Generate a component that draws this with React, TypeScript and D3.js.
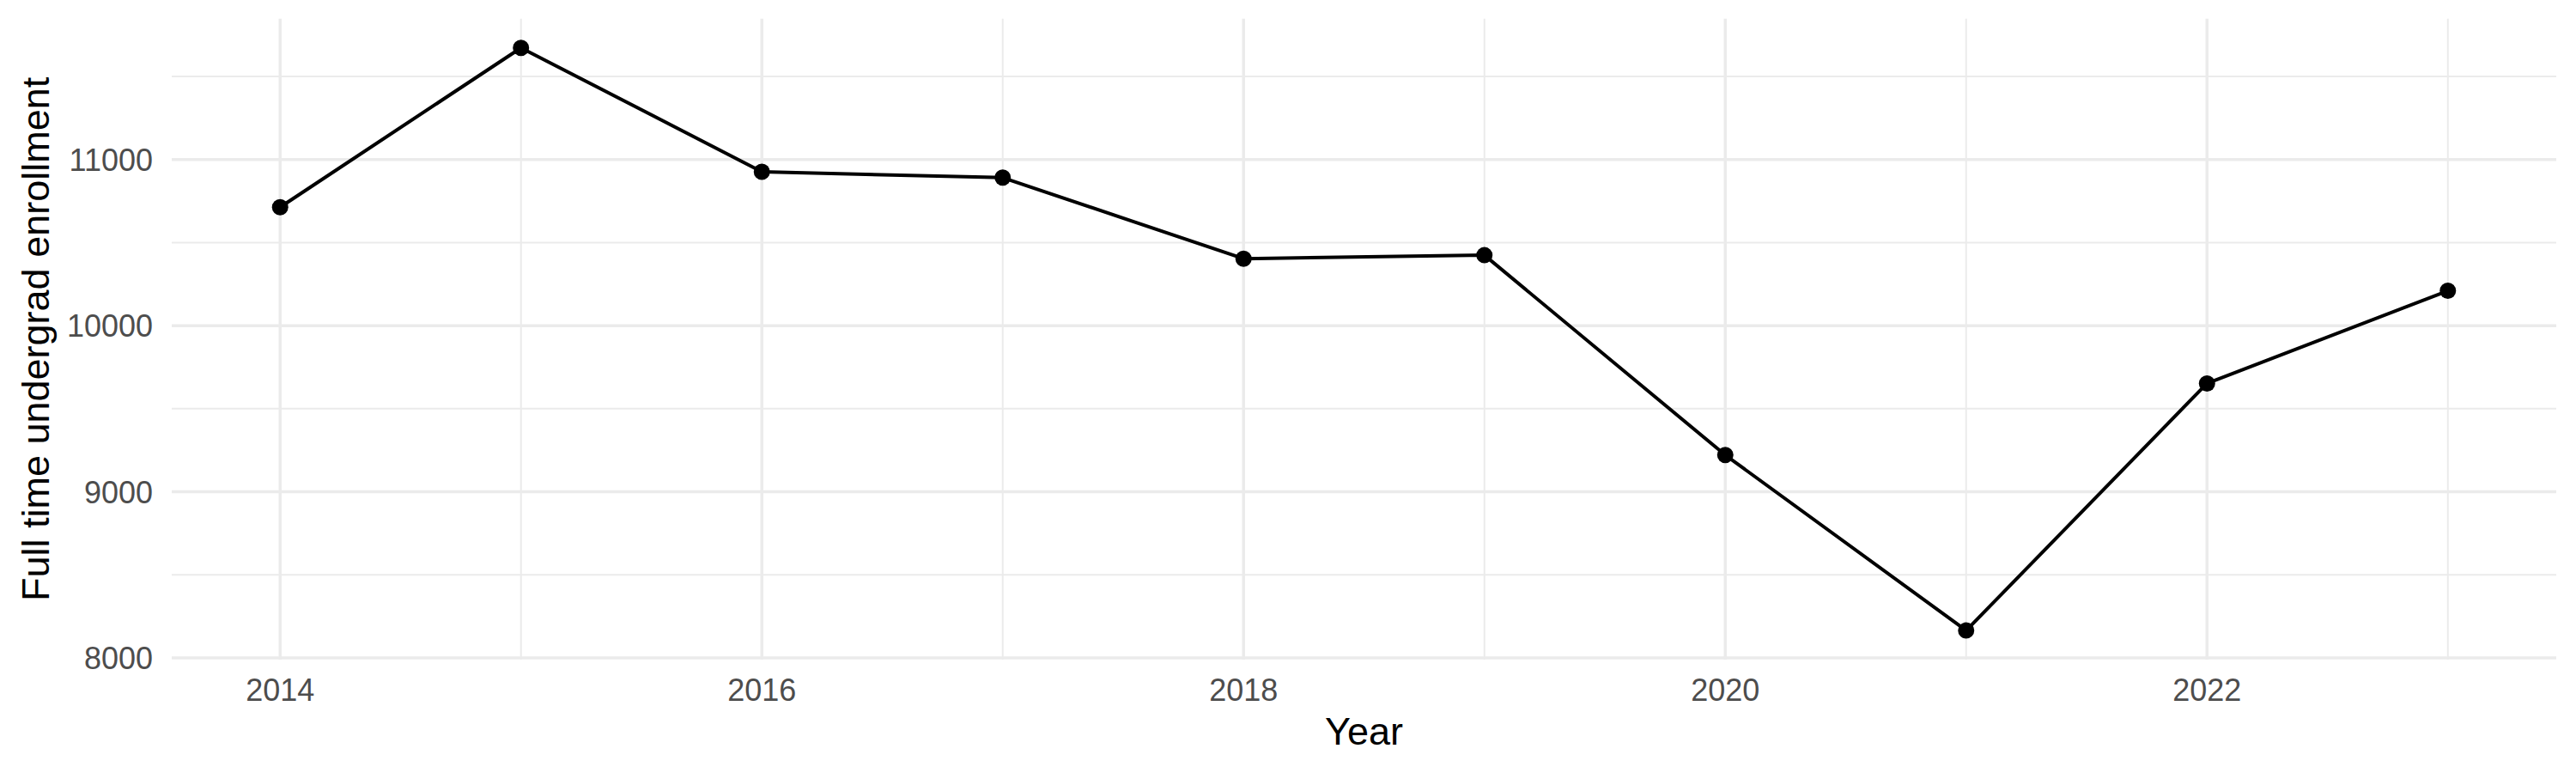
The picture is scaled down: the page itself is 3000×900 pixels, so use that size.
import * as d3 from "d3";

const years = [2014, 2015, 2016, 2017, 2018, 2019, 2020, 2021, 2022, 2023];
const enrollment = [10713, 11672, 10926, 10891, 10403, 10424, 9221, 8165, 9652, 10210];

const xMajorTicks = [2014, 2016, 2018, 2020, 2022];
const xMinorTicks = [2015, 2017, 2019, 2021, 2023];
const yMajorTicks = [8000, 9000, 10000, 11000];
const yMinorTicks = [8500, 9500, 10500, 11500];

const xTitle = "Year";
const yTitle = "Full time undergrad enrollment";

const W = 3000;
const H = 900;
const panel = { left: 200, right: 2977, top: 21.8, bottom: 768 };
const font = "'Liberation Sans', Arial, Helvetica, sans-serif";
const gridColor = "#EBEBEB";

// ggplot-style 5% expansion on both axes
function expand(lo: number, hi: number): [number, number] {
  const pad = (hi - lo) * 0.05;
  return [lo - pad, hi + pad];
}

export default function App() {
  const rows = years.map((year, i) => ({ year, value: enrollment[i] }));

  const x = d3
    .scaleLinear()
    .domain(expand(d3.min(years) ?? 0, d3.max(years) ?? 1))
    .range([panel.left, panel.right]);

  const y = d3
    .scaleLinear()
    .domain(expand(d3.min(enrollment) ?? 0, d3.max(enrollment) ?? 1))
    .range([panel.bottom, panel.top]);

  const line = d3
    .line<{ year: number; value: number }>()
    .x((d) => x(d.year))
    .y((d) => y(d.value));

  const midX = (panel.left + panel.right) / 2;
  const midY = (panel.top + panel.bottom) / 2;

  return (
    <svg
      width={W}
      height={H}
      viewBox={`0 0 ${W} ${H}`}
      style={{ position: "absolute", left: 0, top: 0, background: "#fff", fontFamily: font }}
    >
      <rect width={W} height={H} fill="#fff" />

      {/* minor grid */}
      <g stroke={gridColor} strokeWidth={2}>
        {yMinorTicks.map((t) => (
          <line key={`ym${t}`} x1={panel.left} x2={panel.right} y1={y(t)} y2={y(t)} />
        ))}
        {xMinorTicks.map((t) => (
          <line key={`xm${t}`} x1={x(t)} x2={x(t)} y1={panel.top} y2={panel.bottom} />
        ))}
      </g>

      {/* major grid */}
      <g stroke={gridColor} strokeWidth={3.5}>
        {yMajorTicks.map((t) => (
          <line key={`yM${t}`} x1={panel.left} x2={panel.right} y1={y(t)} y2={y(t)} />
        ))}
        {xMajorTicks.map((t) => (
          <line key={`xM${t}`} x1={x(t)} x2={x(t)} y1={panel.top} y2={panel.bottom} />
        ))}
      </g>

      <path d={line(rows) ?? ""} fill="none" stroke="#000" strokeWidth={4} strokeLinejoin="round" />
      {rows.map((d) => (
        <circle key={d.year} cx={x(d.year)} cy={y(d.value)} r={9.5} fill="#000" />
      ))}

      {/* y tick labels */}
      <g fill="#4D4D4D" fontSize={36} textAnchor="end">
        {yMajorTicks.map((t) => (
          <text key={t} x={178} y={y(t) + 13}>
            {t}
          </text>
        ))}
      </g>

      {/* x tick labels */}
      <g fill="#4D4D4D" fontSize={36} textAnchor="middle">
        {xMajorTicks.map((t) => (
          <text key={t} x={x(t)} y={816}>
            {t}
          </text>
        ))}
      </g>

      <text x={midX} y={867} fontSize={45} textAnchor="middle" fill="#000">
        {xTitle}
      </text>
      <text
        transform={`translate(57,${midY}) rotate(-90)`}
        fontSize={45}
        textAnchor="middle"
        fill="#000"
      >
        {yTitle}
      </text>
    </svg>
  );
}
